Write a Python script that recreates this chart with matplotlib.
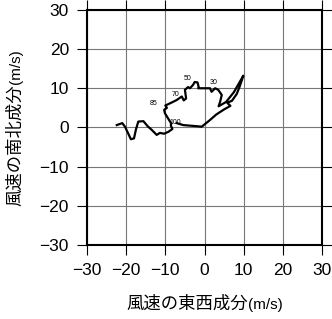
import matplotlib
matplotlib.use("Agg")
import matplotlib.pyplot as plt

plt.rcParams["font.family"] = ["Liberation Sans", "Noto Sans CJK JP", "DejaVu Sans"]

# hodograph (u, v) in m/s
u_wind = [-22.4, -21.0, -20.3, -19.5, -18.8, -18.0, -17.5, -16.9, -15.6, -14.5,
          -13.5, -12.2, -11.4, -10.3, -9.2, -8.2, -8.6, -8.5,
          -8.8, -9.6, -10.1, -10.3, -9.6, -10.0, -8.5, -7.1, -5.8, -5.3, -4.7,
          -5.0, -4.2, -3.7, -2.9, -2.5, -1.8, -1.5, -1.6, -0.3, 1.4, 1.8, 2.3,
          2.7, 3.5, 4.4, 4.0, 3.6, 5.5, 7.5, 9.9, 9.0, 8.2, 7.0, 5.8, 6.6, 5.0,
          3.0, 1.4, -0.7, -3.0, -5.4, -7.1]
v_wind = [0.6, 1.1, 0.2, -1.5, -3.0, -2.8, -0.5, 1.5, 1.6, 0.3,
          -0.6, -1.9, -1.4, -1.6, -1.1, -0.4, 0.5, 1.0,
          1.5, 2.8, 3.6, 4.5, 5.0, 5.6, 6.3, 7.0, 7.9, 6.9, 7.4,
          9.6, 10.3, 10.0, 10.9, 11.6, 11.5, 10.4, 10.0, 10.0, 10.0, 9.1, 9.6,
          10.0, 9.6, 8.3, 6.6, 5.4, 6.5, 9.0, 13.2, 10.5, 8.5, 6.8, 6.3, 5.5, 4.6,
          3.3, 1.9, 0.2, 0.4, 0.6, 1.1]

# pressure level labels
level_labels = ["100", "85", "70", "50", "30"]
level_u = [-7.5, -12.9, -7.5, -4.2, 2.2]
level_v = [1.2, 6.2, 8.3, 12.6, 11.4]

ticks = [-30, -20, -10, 0, 10, 20, 30]
tick_labels = ["\u221230", "\u221220", "\u221210", "0", "10", "20", "30"]

fig = plt.figure(figsize=(3.32, 3.19), dpi=100)
ax = fig.add_axes([0.262, 0.232, 0.708, 0.737])

ax.plot(u_wind, v_wind, color="black", lw=1.6, zorder=3)
for lab, x, y in zip(level_labels, level_u, level_v):
    ax.text(x, y, lab, fontsize=5, ha="center", va="center", zorder=4)

ax.set_xlim(-30, 30)
ax.set_ylim(-30, 30)
ax.set_xticks(ticks)
ax.set_yticks(ticks)
ax.set_xticklabels(tick_labels)
ax.set_yticklabels(tick_labels)
ax.grid(True, color="#777777", lw=0.8)
ax.set_axisbelow(True)

for s in ax.spines.values():
    s.set_linewidth(1.5)
ax.tick_params(direction="out", length=7, width=0.8, labelsize=12.5,
               top=True, right=True)
ax.tick_params(axis="x", pad=6)
ax.tick_params(axis="y", pad=6)

# axis titles: CJK part larger, unit part smaller
main_size, unit_size = 12.5, 11
fig.canvas.draw()
renderer = fig.canvas.get_renderer()


def text_width(s, size):
    t = fig.text(0, 0, s, fontsize=size)
    w = t.get_window_extent(renderer).width
    t.remove()
    return w


W, H = fig.bbox.width, fig.bbox.height
w1 = text_width("風速の東西成分", main_size)
w2 = text_width("(m/s)", unit_size)
cx = 204.5
x0 = cx - (w1 + w2) / 2
yb = 10 / H
fig.text(x0 / W, yb, "風速の東西成分", fontsize=main_size, ha="left", va="baseline")
fig.text((x0 + w1) / W, yb, "(m/s)", fontsize=unit_size, ha="left", va="baseline")

w1 = text_width("風速の南北成分", main_size)
w2 = text_width("(m/s)", unit_size)
cy = H - 127.5
y0 = cy - (w1 + w2) / 2
xb = 20 / W
fig.text(xb, y0 / H, "風速の南北成分", fontsize=main_size, rotation=90,
         rotation_mode="anchor", ha="left", va="baseline")
fig.text(xb, (y0 + w1) / H, "(m/s)", fontsize=unit_size, rotation=90,
         rotation_mode="anchor", ha="left", va="baseline")

fig.savefig("out.png", dpi=100)
